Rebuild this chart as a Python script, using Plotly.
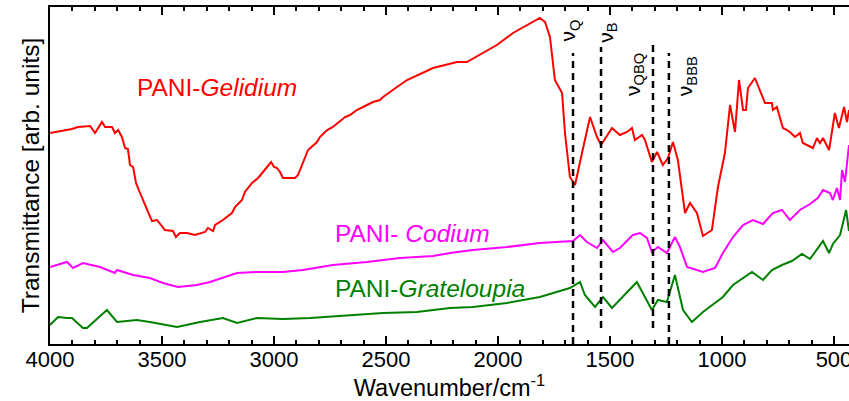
import plotly.graph_objects as go

# ---------------- data ----------------
wn_gel = [4000, 3955, 3902, 3875, 3821, 3799, 3768, 3754, 3723, 3710,
          3696, 3679, 3665, 3652, 3643, 3629, 3616, 3598, 3567, 3545,
          3522, 3487, 3451, 3438, 3420, 3388, 3353, 3308, 3295, 3272,
          3263, 3228, 3188, 3174, 3143, 3130, 3098, 3071, 3049, 3013,
          3000, 2987, 2973, 2960, 2906, 2893, 2848, 2808, 2795, 2763,
          2737, 2705, 2683, 2661, 2630, 2594, 2558, 2527, 2513, 2451,
          2406, 2290, 2183, 2139, 2067, 2005, 1933, 1871, 1813, 1790,
          1768, 1746, 1714, 1701, 1679, 1670, 1656, 1625, 1589, 1558,
          1540, 1491, 1456, 1424, 1402, 1389, 1357, 1344, 1313, 1290,
          1264, 1241, 1219, 1197, 1165, 1143, 1112, 1085, 1045, 1018,
          987, 964, 942, 924, 906, 893, 884, 853, 831, 808,
          777, 773, 755, 728, 710, 697, 674, 652, 639, 594,
          576, 563, 549, 522, 496, 478, 455, 442, 433]
t_gel = [211, 213, 215, 217, 218, 211, 222, 217, 217, 211,
         214, 207, 196, 195, 179, 177, 161, 151, 134, 123,
         124, 114, 113, 107, 111, 111, 109, 112, 116, 113,
         119, 124, 131, 137, 144, 152, 161, 166, 172, 182,
         177, 176, 172, 166, 166, 169, 194, 202, 207, 214,
         217, 223, 227, 229, 234, 238, 242, 244, 247, 257,
         264, 276, 282, 282, 291, 299, 311, 319, 326, 322,
         307, 264, 251, 211, 167, 164, 159, 191, 227, 207,
         199, 216, 209, 212, 216, 204, 209, 204, 182, 192,
         179, 186, 202, 184, 131, 141, 131, 108, 114, 157,
         191, 239, 212, 264, 234, 234, 256, 266, 254, 241,
         241, 234, 237, 216, 214, 212, 207, 211, 201, 196,
         206, 201, 206, 194, 231, 216, 237, 222, 234]

wn_cod = [4000, 3924, 3897, 3853, 3777, 3710, 3701, 3629, 3554, 3496,
          3429, 3344, 3286, 3228, 3165, 3076, 2960, 2871, 2737, 2585,
          2438, 2290, 2214, 2112, 1960, 1813, 1665, 1634, 1603, 1558,
          1531, 1487, 1456, 1398, 1366, 1335, 1313, 1286, 1246, 1210,
          1188, 1156, 1112, 1085, 1031, 996, 951, 906, 862, 817,
          773, 732, 697, 652, 607, 572, 549, 518, 505, 487,
          473, 464, 451, 433]
t_cod = [77, 82, 76, 81, 77, 71, 74, 69, 66, 61,
         57, 59, 62, 66, 71, 72, 72, 74, 79, 82,
         86, 88, 91, 94, 97, 101, 103, 109, 102, 96,
         104, 92, 96, 109, 111, 106, 92, 97, 91, 107,
         97, 77, 74, 72, 76, 91, 107, 119, 124, 120,
         131, 134, 124, 134, 140, 146, 154, 151, 144, 156,
         144, 174, 162, 199]

wn_gra = [4000, 3964, 3924, 3902, 3853, 3835, 3746, 3701, 3612, 3554,
          3433, 3330, 3228, 3165, 3076, 2960, 2839, 2661, 2513, 2362,
          2214, 2112, 1960, 1813, 1679, 1634, 1612, 1567, 1531, 1491,
          1380, 1313, 1286, 1246, 1210, 1174, 1134, 1085, 996, 951,
          906, 866, 817, 777, 732, 688, 643, 607, 549, 522,
          505, 473, 446, 433]
t_gra = [19, 27, 26, 26, 16, 16, 34, 22, 24, 22,
         17, 22, 26, 21, 26, 25, 26, 29, 31, 32,
         36, 37, 41, 47, 56, 62, 49, 37, 47, 36,
         62, 34, 44, 42, 69, 34, 22, 32, 47, 59,
         66, 72, 64, 74, 79, 83, 90, 85, 103, 91,
         100, 109, 134, 113]

# band markers (wavenumber, dashed line top, dashed line bottom)
band_names = ["ν<sub>Q</sub>", "ν<sub>B</sub>", "ν<sub>QBQ</sub>", "ν<sub>BBB</sub>"]
band_wn = [1665, 1540, 1308, 1237]
band_top = [291, 297, 299, 291]
band_bottom = [0, 16, 16, 0]
band_label_wn = [1681, 1514, 1393, 1160]
band_label_t = [314, 312, 270, 268]

sample_names = ["PANI-<i>Gelidium</i>", "PANI- <i>Codium</i>", "PANI-<i>Grateloupia</i>"]
sample_colors = ["#ff0000", "#ff00ff", "#008000"]
sample_label_wn = [3621, 2737, 2737]
sample_label_t = [257, 111, 56]

FONT = "Liberation Sans, Arial, sans-serif"

fig = go.Figure()
for wn, t, c in zip([wn_gel, wn_cod, wn_gra], [t_gel, t_cod, t_gra], sample_colors):
    fig.add_trace(go.Scatter(x=wn, y=t, mode="lines",
                             line=dict(color=c, width=2), hoverinfo="skip"))

for w, top, bot in zip(band_wn, band_top, band_bottom):
    fig.add_trace(go.Scatter(x=[w, w], y=[bot, top], mode="lines",
                             line=dict(color="black", width=2.5, dash="7px,5px"),
                             hoverinfo="skip"))

for name, w, t in zip(band_names, band_label_wn, band_label_t):
    fig.add_annotation(x=w, y=t, xref="x", yref="y", text=name, textangle=-90,
                       showarrow=False, xanchor="center", yanchor="middle",
                       font=dict(family=FONT, size=21, color="black"))

for name, c, w, t in zip(sample_names, sample_colors, sample_label_wn, sample_label_t):
    fig.add_annotation(x=w, y=t, xref="x", yref="y", text=name,
                       showarrow=False, xanchor="left", yanchor="middle",
                       font=dict(family=FONT, size=24.5, color=c))

fig.update_layout(
    width=849, height=401,
    margin=dict(l=50, r=0, t=7, b=57),
    plot_bgcolor="white", paper_bgcolor="white",
    showlegend=False,
    font=dict(family=FONT, color="black"),
)
fig.update_xaxes(
    range=[4000, 433], tick0=0, dtick=500, automargin=False,
    ticklabeloverflow="allow", ticklabelstandoff=-5,
    ticks="inside", ticklen=8, tickwidth=1.5, tickcolor="black",
    showline=True, linewidth=2, linecolor="black", mirror="ticks",
    minor=dict(dtick=100, ticks="inside", ticklen=4, tickwidth=1.5, tickcolor="black"),
    showgrid=False, zeroline=False,
    tickfont=dict(family=FONT, size=22, color="black"),
    title=dict(text="Wavenumber/cm<sup>-1</sup>", font=dict(family=FONT, size=23.5, color="black"),
               standoff=4),
)
fig.update_yaxes(
    range=[0, 337], showticklabels=False, ticks="", automargin=False,
    showline=True, linewidth=2, linecolor="black", mirror=False,
    showgrid=False, zeroline=False,
    title=dict(text="Transmittance [arb. units]", font=dict(family=FONT, size=24.5, color="black"),
               standoff=1),
)

fig.write_html("out.html",
               config={"displayModeBar": False},
               post_script="document.body.style.margin='0px';document.body.style.overflow='hidden';")
